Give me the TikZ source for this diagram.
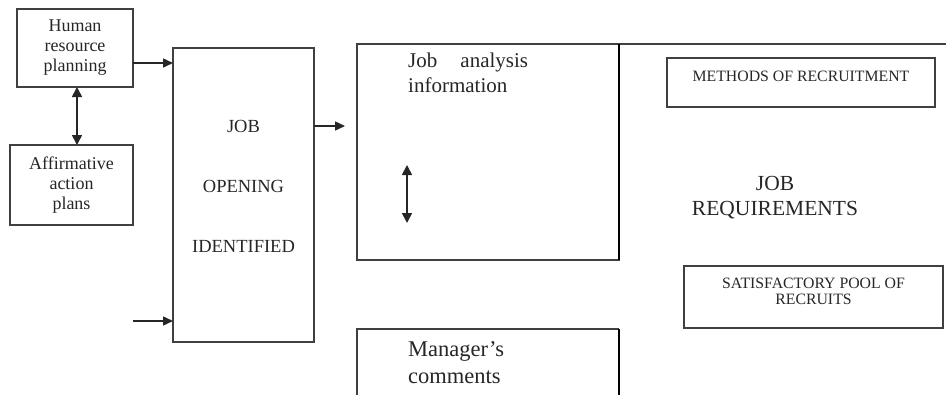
\documentclass[tikz,border=0pt]{standalone}
\usepackage{fontspec}
\setmainfont{Liberation Serif}
\usetikzlibrary{arrows.meta}
\begin{document}
\begin{tikzpicture}[x=1pt,y=-1pt,
  boxstyle/.style={draw=black!75,line width=1.4pt,rectangle,inner sep=0pt,outer sep=0pt},
  edgeline/.style={draw=black!75,line width=1.4pt},
  darkline/.style={draw=black,line width=1.9pt},
  arr/.style={draw=black!85,line width=1.5pt,-{Triangle[length=10pt,width=9pt]}},
  darr/.style={draw=black!85,line width=1.7pt,{Triangle[length=10pt,width=10pt]}-{Triangle[length=10pt,width=10pt]}},
  smalltext/.style={font=\fontsize{18}{20}\selectfont,align=center,text=black!85},
  captext/.style={font=\fontsize{15.8}{17}\selectfont,align=center,text=black!85},
]
\useasboundingbox (0,0) rectangle (946,394);

% left column
\node[boxstyle,minimum width=116pt,minimum height=78pt,smalltext] (hrp) at (75,48) {Human\\resource\\planning};
\node[boxstyle,minimum width=123pt,minimum height=80pt,smalltext] (aap) at (71.5,185) {Affirmative\\action\\plans};

% job opening box
\node[boxstyle,minimum width=141pt,minimum height=294pt] (jo) at (243.5,195) {};
\node[font=\fontsize{18.5}{60}\selectfont,align=center,text=black!85] (jotext) at ([yshift=9pt]jo.center) {JOB\\OPENING\\IDENTIFIED};

% job analysis box
\node[boxstyle,minimum width=262pt,minimum height=216pt] (jai) at (488,152) {};
\node[anchor=north west,font=\fontsize{21}{25}\selectfont,align=left,text=black!85,inner sep=0pt] (jaitext) at (408,53) {Job\hspace{1.1em}analysis\\information};

% job requirements region
\coordinate (jrtop) at (946,44);
\draw[edgeline] (jai.north east) -- (jrtop);
\draw[darkline] (jai.south east) -- (jai.north east);
\node[font=\fontsize{21.5}{25}\selectfont,align=center,text=black!85] (jrtext) at (775,198) {JOB\\REQUIREMENTS};

\node[boxstyle,minimum width=268pt,minimum height=49pt] (mor) at (801,82.5) {};
\node[captext,anchor=north] (mortext) at ([yshift=-10pt]mor.north) {METHODS OF RECRUITMENT};

\node[boxstyle,minimum width=259pt,minimum height=62pt] (spr) at (813.5,297) {};
\node[captext,anchor=north,font=\fontsize{15.8}{16}\selectfont] (sprtext) at ([yshift=-9pt]spr.north) {SATISFACTORY POOL OF\\RECRUITS};

% manager's comments box (runs past the lower edge)
\coordinate (mcbl) at (357,396);
\coordinate (mctl) at (357,329);
\coordinate (mctr) at (619,329);
\coordinate (mcbr) at (619,396);
\draw[edgeline] (mcbl) -- (mctl) -- (mctr);
\draw[darkline] (mctr) -- (mcbr);
\node[anchor=north west,font=\fontsize{22.5}{27}\selectfont,align=left,text=black!85,inner sep=0pt] (mctext) at (408,341) {Manager's\\comments};

% connectors
\coordinate (a1) at ([yshift=-15pt]hrp.east);
\draw[arr] (a1) -- (a1 -| jo.west);
\draw[darr] ([xshift=2pt]hrp.south) -- ([xshift=2pt]hrp.south |- aap.north);
\coordinate (in1) at (133,321);
\draw[arr] (in1) -- (in1 -| jo.west);
\coordinate (out1) at (345,126);
\draw[arr] (out1 -| jo.east) -- (out1);
\coordinate (ja1) at (407,165);
\coordinate (ja2) at (407,223);
\draw[darr] (ja1) -- (ja2);
\end{tikzpicture}
\end{document}
